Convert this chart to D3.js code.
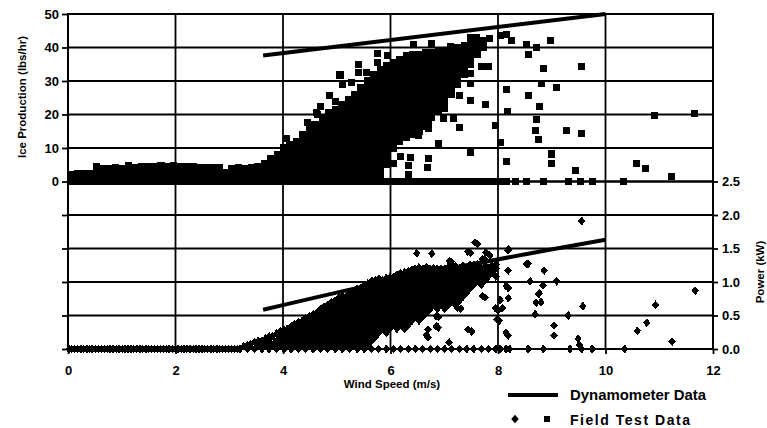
<!DOCTYPE html>
<html><head><meta charset="utf-8">
<script src="https://cdn.jsdelivr.net/npm/d3@7"></script>
<style>
body{margin:0;background:#fff}
text{font-family:Arial,"Liberation Sans",Helvetica,sans-serif;font-weight:bold;fill:#000}
</style>
</head><body><svg id="c" width="767" height="428"></svg>
<script>
// ---------------- data ----------------
const windTicks = [0, 2, 4, 6, 8, 10, 12];
const iceTicks = [0, 10, 20, 30, 40, 50];
const powerTicks = [0.0, 0.5, 1.0, 1.5, 2.0, 2.5];

const xTitle = "Wind Speed (m/s)";
const iceTitle = "Ice Production (lbs/hr)";
const powerTitle = "Power (kW)";
const legendLabels = ["Dynamometer Data", "Field Test Data"];

// Dynamometer curves
const dynoIceWind = [3.63, 10];
const dynoIce = [37.6, 50.0];
const dynoPowerWind = [3.63, 6, 10];
const dynoPower = [0.585, 1.02, 1.63];

// Field test, ice production: dense columns [wind, [ice values]]
const iceColumns = [
[0.05,[0,1.6,2.2]],[0.17,[0,1.6,2.3]],[0.29,[0,1.6,2.4]],[0.41,[0,1.6,2.4]],
[0.53,[0,1.8,3.2,4.4]],[0.65,[0,1.8,3.0,4.0]],[0.77,[0,1.8,3.0,3.9]],[0.89,[0,1.8,3.1,4.1]],
[1.01,[0,1.8,3.1,4.0]],[1.13,[0,1.9,3.2,4.8]],[1.25,[0,1.9,3.2,4.3]],[1.37,[0,1.9,3.3,4.5]],
[1.49,[0,1.9,3.3,4.6]],[1.61,[0,1.9,3.3,4.4]],[1.73,[0,1.9,3.4,4.7]],[1.85,[0,1.9,3.4,4.6]],
[1.97,[0,1.9,3.4,4.7]],[2.09,[0,1.9,3.4,4.5]],[2.21,[0,1.9,3.4,4.6]],[2.33,[0,1.9,3.3,4.4]],
[2.45,[0,1.9,3.3,4.3]],[2.57,[0,1.9,3.2,4.2]],[2.69,[0,1.9,3.2,4.1]],[2.81,[0,1.9,3.2,4.2]],
[2.93,[0,1.8,2.8]],[3.05,[0,1.9,3.1,4.0]],[3.17,[0,1.9,3.1,4.1]],[3.29,[0,1.9,3.0,3.9]],
[3.41,[0,1.9,3.1,4.1]],[3.53,[0,2.0,3.3,4.4]],
[3.65,[0,2,4,5.5]],
[3.77,[0,2,4,6,7]],
[3.89,[0,2,4,6,8]],
[4.01,[0,2,4,6,8,10]],
[4.13,[0,2,4,6,8,10,11]],
[4.25,[0,2,4,6,8,10,12]],
[4.37,[0,2,4,6,8,10,12,14]],
[4.49,[0,2,4,6,8,10,12,14,15.5]],
[4.61,[0,2,4,6,8,10,12,14,16,17]],
[4.73,[0,2,4,6,8,10,12,14,16,18,19]],
[4.85,[0,2,4,6,8,10,12,14,16,18,20,20.5]],
[4.97,[0,2,4,6,8,10,12,14,16,18,20,21.5]],
[5.09,[0,2,4,6,8,10,12,14,16,18,20,22,23]],
[5.21,[0,2,4,6,8,10,12,14,16,18,20,22,24,24.5]],
[5.33,[0,2,4,6,8,10,12,14,16,18,20,22,24,26]],
[5.45,[0,2,4,6,8,10,12,14,16,18,20,22,24,26,28]],
[5.57,[0,2,4,6,8,10,12,14,16,18,20,22,24,26,28,30]],
[5.69,[0,2,4,6,8,10,12,14,16,18,20,22,24,26,28,30,32]],
[5.81,[0,2,4,6,8,10,12,14,16,18,20,22,24,26,28,30,32,33.5]],
[5.93,[0,5,7,9,11,13,15,17,19,21,23,25,27,29,31,33,34.5]],
[6.05,[0,10,12,14,16,18,20,22,24,26,28,30,32,34,35.5]],
[6.17,[0,12,14,16,18,20,22,24,26,28,30,32,34,36,36.5]],
[6.29,[0,13,15,17,19,21,23,25,27,29,31,33,35,37,37.5]],
[6.41,[0,14,16,18,20,22,24,26,28,30,32,34,36,38]],
[6.53,[0,15,17,19,21,23,25,27,29,31,33,35,37,38]],
[6.65,[0,16.5,18.5,20.5,22.5,24.5,26.5,28.5,30.5,32.5,34.5,36.5,38.5]],
[6.77,[0,19,21,23,25,27,29,31,33,35,37,38.5]],
[6.89,[0,21,23,25,27,29,31,33,35,37,39]],
[7.01,[0,23,25,27,29,31,33,35,37,39]],
[7.13,[0,26,28,30,32,34,36,38,39.5]],
[7.25,[0,29,31,33,35,37,39,40]],
[7.37,[0,32,34,36,38,40,40.5]],
[7.49,[0,35,37,39,41]],
[7.61,[0,38,40,41.5]],
[7.73,[0,40,42]],
[7.85,[0]],[7.97,[0]],[8.09,[0]]
];
// Field test, ice production: individual points [wind, ice]
const iceScatter = [
[4.07,12.9],[4.45,17.5],[4.5,16.9],[4.62,20.5],[4.64,19.9],[4.69,22.3],[4.86,25.8],[4.98,24],
[5.06,31.8],[5.1,28.9],[5.28,29.5],[5.4,34.8],[5.4,32.5],[5.56,32.6],[5.75,38.3],[5.75,35.5],[5.95,37.7],
[6.05,5.4],[6.18,7.4],[6.37,7.3],[6.33,4.7],[6.33,2.0],[6.71,7.0],[6.68,4.2],[6.52,13.6],[6.89,11.2],
[6.70,17.8],[6.70,15.8],[6.98,18.8],[7.17,18.8],[7.01,21.8],[7.29,16.0],[7.29,25.7],[7.48,8.6],
[7.48,24.3],[7.48,29.2],[7.48,32.2],[7.70,34.2],[7.82,34.2],[7.76,23.0],[7.95,16.6],[8.05,11.6],
[8.16,27.5],[8.18,21.0],[8.16,6.0],[8.56,25.7],[8.78,22.3],[8.81,29.2],[8.84,33.6],[9.09,28.1],
[9.56,34.3],[8.72,18.4],[8.69,15.1],[8.75,12.4],[9.0,8.2],[9.0,5.4],[9.28,15.3],[9.56,14.4],
[9.44,3.4],[10.92,19.7],[11.65,20.4],[10.58,5.4],[10.75,3.9],[11.23,1.5],
[6.42,40.8],[6.77,41.3],[7.11,40.4],[7.48,43.1],[7.6,43.1],[7.85,42.8],[8.04,43.6],[8.16,44.0],
[8.25,42.0],[8.53,41.0],[8.72,40.0],[8.97,42.0],[8.56,38.0],
[8.16,0],[8.32,0],[8.53,0],[8.84,0],[9.31,0],[9.53,0],[9.75,0],[10.34,0]
];

// Field test, power: dense columns [wind, [power values]]
const powerColumns = [
[3.20,[0]],[3.27,[0.04]],[3.34,[0,0.06]],[3.40,[0.07]],[3.47,[0,0.1]],[3.54,[0.06,0.12]],
[3.61,[0,0.13]],[3.68,[0.06,0.16]],[3.74,[0,0.12,0.19]],[3.81,[0.06,0.19]],[3.88,[0,0.12,0.23]],
[3.95,[0.06,0.18,0.26]],[4.02,[0,0.12,0.24,0.29]],[4.08,[0.06,0.18,0.30]],[4.15,[0,0.12,0.24,0.34]],
[4.22,[0.06,0.18,0.30,0.37]],[4.29,[0,0.12,0.24,0.36,0.40]],[4.36,[0.06,0.18,0.30,0.42]],
[4.42,[0,0.12,0.24,0.36,0.46]],[4.49,[0.06,0.18,0.30,0.42,0.49]],[4.56,[0,0.12,0.24,0.36,0.48,0.52]],
[4.63,[0.06,0.18,0.30,0.42,0.54]],[4.70,[0,0.12,0.24,0.36,0.48,0.60]],
[4.76,[0.06,0.18,0.30,0.42,0.54,0.63]],[4.83,[0,0.12,0.24,0.36,0.48,0.60,0.66]],
[4.90,[0.06,0.18,0.30,0.42,0.54,0.66,0.70]],[4.97,[0,0.12,0.24,0.36,0.48,0.60,0.72]],
[5.04,[0.06,0.18,0.30,0.42,0.54,0.66,0.77]],[5.10,[0,0.12,0.24,0.36,0.48,0.60,0.72,0.79]],
[5.17,[0.06,0.18,0.30,0.42,0.54,0.66,0.78]],[5.24,[0,0.12,0.24,0.36,0.48,0.60,0.72,0.84]],
[5.31,[0.06,0.18,0.30,0.42,0.54,0.66,0.78,0.86]],[5.38,[0,0.12,0.24,0.36,0.48,0.60,0.72,0.84,0.90]],
[5.44,[0.06,0.18,0.30,0.42,0.54,0.66,0.78,0.90]],[5.51,[0,0.12,0.24,0.36,0.48,0.60,0.72,0.84,0.95]],
[5.58,[0.06,0.18,0.30,0.42,0.54,0.66,0.78,0.90,0.98]],
[5.65,[0,0.12,0.24,0.36,0.48,0.60,0.72,0.84,0.96,1.02]],
[5.72,[0.18,0.30,0.42,0.54,0.66,0.78,0.90,1.02]],
[5.78,[0,0.24,0.36,0.48,0.60,0.72,0.84,0.96,1.05]],
[5.85,[0.30,0.42,0.54,0.66,0.78,0.90,1.02]],
[5.92,[0,0.24,0.36,0.48,0.60,0.72,0.84,0.96,1.06]],
[5.99,[0.30,0.42,0.54,0.66,0.78,0.90,1.02,1.07]],
[6.06,[0,0.36,0.48,0.60,0.72,0.84,0.96,1.08]],
[6.12,[0.30,0.42,0.54,0.66,0.78,0.90,1.02,1.11]],
[6.19,[0,0.36,0.48,0.60,0.72,0.84,0.96,1.08,1.13]],
[6.26,[0.30,0.42,0.54,0.66,0.78,0.90,1.02,1.14]],
[6.33,[0,0.36,0.48,0.60,0.72,0.84,0.96,1.08,1.16]],
[6.40,[0.42,0.54,0.66,0.78,0.90,1.02,1.14,1.19]],
[6.46,[0,0.48,0.60,0.72,0.84,0.96,1.08,1.20]],
[6.53,[0.42,0.54,0.66,0.78,0.90,1.02,1.14,1.22]],
[6.60,[0,0.48,0.60,0.72,0.84,0.96,1.08,1.20]],
[6.67,[0.54,0.66,0.78,0.90,1.02,1.14,1.22]],
[6.74,[0,0.60,0.72,0.84,0.96,1.08,1.20]],
[6.80,[0.66,0.78,0.90,1.02,1.14,1.21]],
[6.87,[0,0.60,0.72,0.84,0.96,1.08,1.20]],
[6.94,[0.66,0.78,0.90,1.02,1.14,1.20]],
[7.01,[0,0.60,0.72,0.84,0.96,1.08,1.20]],
[7.08,[0.66,0.78,0.90,1.02,1.14,1.23]],
[7.14,[0,0.72,0.84,0.96,1.08,1.20]],
[7.21,[0.66,0.78,0.90,1.02,1.14,1.24]],
[7.28,[0,0.72,0.84,0.96,1.08,1.20]],
[7.35,[0.78,0.90,1.02,1.14,1.24]],
[7.42,[0,0.84,0.96,1.08,1.20]],
[7.48,[0.90,1.02,1.14,1.26]],
[7.55,[0,0.96,1.08,1.20,1.26]],
[7.62,[1.02,1.14,1.26]],
[7.69,[0,0.96,1.08,1.20]],
[7.76,[1.02,1.14,1.24]],
[7.82,[0,1.08,1.20]],
[7.89,[1.14,1.25]],
[7.96,[0,1.08,1.20,1.26]]
];
// wind speeds of field points reading 0 kW outside the dense columns
const powerZeroWind = [0.02,0.07,0.12,0.18,0.24,0.29,0.35,0.40,0.45,0.51,0.57,0.62,0.68,0.73,0.78,0.84,
0.9,0.95,1.01,1.06,1.12,1.17,1.22,1.28,1.34,1.39,1.45,1.50,1.55,1.61,1.67,1.72,1.78,1.83,1.88,1.94,
2.0,2.05,2.11,2.16,2.21,2.27,2.33,2.38,2.44,2.49,2.54,2.60,2.66,2.71,2.77,2.82,2.87,2.93,2.99,3.04,3.1,3.15,
8.04,8.15,8.22,8.56,8.84,9.34,9.56,9.75,10.36];
// Field test, power: individual points [wind, power]
const powerScatter = [
[6.49,1.43],[6.77,1.42],[7.62,1.57],[7.49,1.43],[7.85,1.40],[7.76,1.33],[7.13,1.30],[8.19,1.47],
[8.56,1.27],[8.86,1.17],[8.19,1.17],[8.6,1.01],[9.09,1.01],[8.84,0.95],[8.19,0.91],[8.77,0.83],
[8.8,0.70],[8.04,0.73],[8.19,0.76],[7.76,0.77],[9.58,0.64],[8.69,0.52],[9.31,0.50],[8.0,0.58],
[8.02,0.42],[7.31,0.60],[6.89,0.48],[6.89,0.32],[7.51,0.26],[6.7,0.17],[7.09,0.10],[8.19,0.20],
[9.04,0.35],[9.04,0.20],[9.49,0.15],[9.52,0.06],[9.56,1.91],[10.59,0.27],[10.77,0.39],[10.93,0.66],
[11.24,0.11],[11.67,0.87],[7.1,1.31],[7.44,1.45],[7.57,1.59],[7.77,1.44],[7.71,1.34],[8.2,1.49],
[8.15,0.94],[8.08,0.61],[7.95,0.61],[7.98,0.44],[8.15,0.24],[7.71,0.79],[7.44,0.29],[7.25,0.61],
[6.85,0.34],[6.85,0.49],[6.67,0.21],[6.7,0.29],[8.71,0.69],[8.75,0.82],[8.53,1.27]
];

// ---------------- drawing ----------------
const svg = d3.select("#c");
const L = 68, R = 713, T = 14, M = 181.5, B = 349;
const x = d3.scaleLinear().domain([0, 12]).range([L, R]);
const yIce = d3.scaleLinear().domain([0, 50]).range([M, T]);
const yPow = d3.scaleLinear().domain([0, 2.5]).range([B, M]);

const grid = svg.append("g").attr("stroke", "#000").attr("stroke-width", 1.8);
grid.selectAll(".hi").data(iceTicks).join("line")
  .attr("x1", L).attr("x2", R).attr("y1", d => yIce(d)).attr("y2", d => yIce(d));
grid.selectAll(".hp").data(powerTicks).join("line")
  .attr("x1", L).attr("x2", R).attr("y1", d => yPow(d)).attr("y2", d => yPow(d));
grid.selectAll(".v").data(windTicks).join("line")
  .attr("x1", d => x(d)).attr("x2", d => x(d)).attr("y1", T).attr("y2", B);
svg.append("rect").attr("x", L).attr("y", T).attr("width", R - L).attr("height", B - T)
  .attr("fill", "none").attr("stroke", "#000").attr("stroke-width", 2);

const fs = "13px";
function styleAxis(g) {
  g.select(".domain").remove();
  g.selectAll(".tick line").attr("stroke", "#000").attr("stroke-width", 1.8);
  g.selectAll("text").style("font-size", fs).style("font-family", "Arial, 'Liberation Sans', sans-serif").style("font-weight", "bold");
}
svg.append("g").attr("transform", `translate(${L},0)`)
  .call(d3.axisLeft(yIce).tickValues(iceTicks).tickSize(6).tickPadding(3).tickFormat(d3.format("d")))
  .call(styleAxis);
svg.append("g").attr("transform", `translate(${L},0)`)
  .call(d3.axisLeft(yPow).tickValues(powerTicks.slice(0, 5)).tickSize(6).tickFormat(""))
  .call(styleAxis);
svg.append("g").attr("transform", `translate(${R},0)`)
  .call(d3.axisRight(yPow).tickValues(powerTicks).tickSize(5).tickPadding(4).tickFormat(d3.format(".1f")))
  .call(styleAxis);
svg.append("g").attr("transform", `translate(0,${B})`)
  .call(d3.axisBottom(x).tickValues(windTicks).tickSize(5).tickPadding(12).tickFormat(d3.format("d")))
  .call(styleAxis);

// titles
svg.append("text").attr("x", 392).attr("y", 388).attr("text-anchor", "middle")
  .style("font-size", "11.5px").text(xTitle);
svg.append("text").attr("transform", "translate(23,97) rotate(-90)").attr("text-anchor", "middle")
  .attr("dominant-baseline", "middle").style("font-size", "11.5px").text(iceTitle);
svg.append("text").attr("transform", "translate(761,272) rotate(-90)").attr("text-anchor", "middle")
  .attr("dominant-baseline", "middle").style("font-size", "11.5px").text(powerTitle);

// symbols
const diamond = { draw(ctx, size) { const r = Math.sqrt(size) / 2; ctx.moveTo(0, -r * 1.08); ctx.lineTo(r * 0.95, 0); ctx.lineTo(0, r * 1.08); ctx.lineTo(-r * 0.95, 0); ctx.closePath(); } };
const sq = d3.symbol(d3.symbolSquare, 50)();
const dm = d3.symbol(diamond, 64)();

const icePts = iceColumns.flatMap(([w, vs]) => vs.map(v => [w, v])).concat(iceScatter);
const powPts = powerColumns.flatMap(([w, vs]) => vs.map(v => [w, v]))
  .concat(powerZeroWind.map(w => [w, 0])).concat(powerScatter);

svg.append("g").attr("shape-rendering", "crispEdges").selectAll("path").data(icePts).join("path")
  .attr("d", sq).attr("fill", "#000")
  .attr("transform", d => `translate(${x(d[0])},${yIce(d[1])})`);
svg.append("g").attr("shape-rendering", "crispEdges").selectAll("path").data(powPts).join("path")
  .attr("d", dm).attr("fill", "#000")
  .attr("transform", d => `translate(${x(d[0])},${yPow(d[1])})`);

// dynamometer lines
svg.append("path").datum(dynoIceWind.map((w, i) => [w, dynoIce[i]]))
  .attr("fill", "none").attr("stroke", "#000").attr("stroke-width", 4)
  .attr("d", d3.line().x(d => x(d[0])).y(d => yIce(d[1])));
svg.append("path").datum(dynoPowerWind.map((w, i) => [w, dynoPower[i]]))
  .attr("fill", "none").attr("stroke", "#000").attr("stroke-width", 4)
  .attr("d", d3.line().curve(d3.curveMonotoneX).x(d => x(d[0])).y(d => yPow(d[1])));

// legend
const lg = svg.append("g");
lg.append("line").attr("x1", 508).attr("x2", 558).attr("y1", 395).attr("y2", 395)
  .attr("stroke", "#000").attr("stroke-width", 4);
lg.append("text").attr("x", 570).attr("y", 400).style("font-size", "14px")
  .attr("textLength", 136).attr("lengthAdjust", "spacingAndGlyphs").text(legendLabels[0]);
lg.append("path").attr("d", dm).attr("transform", "translate(515,419)");
lg.append("path").attr("d", d3.symbol(d3.symbolSquare, 36)()).attr("transform", "translate(547,419)");
lg.append("text").attr("x", 570).attr("y", 424.5).style("font-size", "14px")
  .attr("textLength", 120).attr("lengthAdjust", "spacing").text(legendLabels[1]);
</script>
</body></html>
